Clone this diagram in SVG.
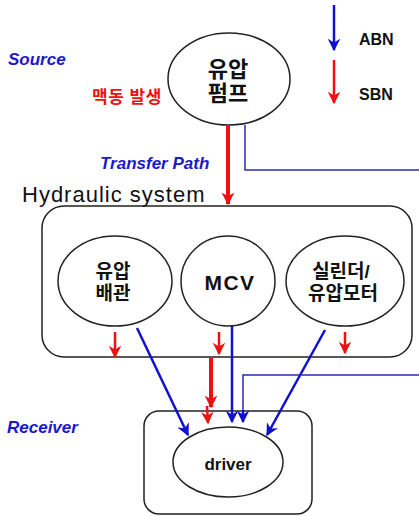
<svg xmlns="http://www.w3.org/2000/svg" width="419" height="516" viewBox="0 0 419 516">
<style>
.node{fill:#fff;stroke:#222;stroke-width:1.5}
.box{fill:none;stroke:#222;stroke-width:1.5}
.kr{font-family:"Liberation Sans","Noto Sans CJK KR",sans-serif;font-weight:bold;text-anchor:middle;fill:#111}
.lab{font-family:"Liberation Sans",Arial,sans-serif;font-weight:bold;font-style:italic;fill:#1a1acc;font-size:17px}
.blue{stroke:#1010d0;stroke-width:2.5;fill:none}
.red{stroke:#ee1111;stroke-width:2.5;fill:none}
.thin{stroke:#2a2ab0;stroke-width:1.5;fill:none}
</style>
<defs>
<marker id="ab" viewBox="0 0 10 10" refX="9" refY="5" markerWidth="5" markerHeight="5" orient="auto" markerUnits="strokeWidth">
<path d="M0,0 L10,5 L0,10 L3,5 z" fill="#1010d0"/>
</marker>
<marker id="ar" viewBox="0 0 10 10" refX="9" refY="5" markerWidth="5" markerHeight="5" orient="auto" markerUnits="strokeWidth">
<path d="M0,0 L10,5 L0,10 L3,5 z" fill="#ee1111"/>
</marker>
<marker id="ar2" viewBox="0 0 10 10" refX="9" refY="5" markerWidth="3.2" markerHeight="3.2" orient="auto" markerUnits="strokeWidth">
<path d="M0,0 L10,5 L0,10 L3,5 z" fill="#ee1111"/>
</marker>
</defs>

<g id="labels">
<text class="lab" x="8" y="65">Source</text>
<text class="lab" x="100" y="169">Transfer Path</text>
<text class="lab" x="7" y="433">Receiver</text>
<text x="92" y="103" font-family="Liberation Sans,'Noto Sans CJK KR',sans-serif" font-weight="bold" font-size="17" letter-spacing="0.5" fill="#ee1111">맥동 발생</text>
<text x="22" y="202" font-family="Liberation Sans,Arial,sans-serif" font-size="22" letter-spacing="1" fill="#111">Hydraulic system</text>
</g>

<g id="legend">
<line class="blue" x1="334" y1="5" x2="334" y2="50" marker-end="url(#ab)"/>
<line class="red" x1="334" y1="60" x2="334" y2="103" marker-end="url(#ar)"/>
<text x="359" y="45" font-family="Liberation Sans,Arial,sans-serif" font-weight="bold" font-size="16" fill="#111">ABN</text>
<text x="359" y="100" font-family="Liberation Sans,Arial,sans-serif" font-weight="bold" font-size="16" fill="#111">SBN</text>
</g>

<g id="hydraulic-system">
<rect class="box" x="42" y="206" width="370" height="151" rx="22"/>
</g>

<g id="pump">
<ellipse class="node" cx="229" cy="79" rx="61" ry="46"/>
<text class="kr" x="228" y="77" font-size="22">유압</text>
<text class="kr" x="228" y="101" font-size="22">펌프</text>
</g>

<g id="pipe">
<ellipse class="node" cx="115" cy="281" rx="57" ry="45"/>
<text class="kr" x="113" y="278" font-size="19">유압</text>
<text class="kr" x="113" y="300" font-size="19">배관</text>
</g>

<g id="mcv">
<ellipse class="node" cx="228" cy="281" rx="47" ry="45"/>
<text class="kr" x="230" y="290" font-size="21" letter-spacing="1.5">MCV</text>
</g>

<g id="cylinder">
<ellipse class="node" cx="345" cy="281" rx="59" ry="45"/>
<text class="kr" x="341" y="278" font-size="19">실린더/</text>
<text class="kr" x="343" y="300" font-size="19">유압모터</text>
</g>

<g id="receiver">
<rect class="box" x="144" y="411" width="168" height="103" rx="15"/>
<ellipse class="node" cx="228" cy="462" rx="55" ry="35"/>
<text class="kr" x="228" y="470" font-size="17">driver</text>
</g>

<g id="connectors">
<line stroke="#ee1111" stroke-width="4" x1="228" y1="126" x2="228" y2="204" marker-end="url(#ar2)"/>
<polyline class="thin" points="245,125 245,170 419,170"/>
<line class="red" x1="115" y1="332" x2="115" y2="357" marker-end="url(#ar)"/>
<line class="red" x1="219" y1="332" x2="219" y2="354" marker-end="url(#ar)"/>
<line class="red" x1="345" y1="332" x2="345" y2="353" marker-end="url(#ar)"/>
<line class="blue" x1="137" y1="328" x2="188" y2="435" marker-end="url(#ab)"/>
<line class="blue" x1="232" y1="326" x2="232" y2="422" marker-end="url(#ab)"/>
<line class="blue" x1="325" y1="330" x2="267" y2="435" marker-end="url(#ab)"/>
<line stroke="#ee1111" stroke-width="4" x1="211" y1="358" x2="211" y2="407" marker-end="url(#ar2)"/>
<line class="red" x1="207" y1="406" x2="208" y2="423" marker-end="url(#ar)"/>
<polyline class="thin" points="419,375 243,375 243,420"/>
<line class="blue" x1="243" y1="410" x2="243" y2="422" marker-end="url(#ab)"/>
</g>
</svg>
